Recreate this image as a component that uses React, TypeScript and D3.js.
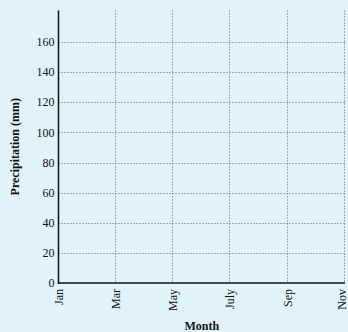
import React, { useEffect, useRef } from "react";
import * as d3 from "d3";

const monthTicks = ["Jan", "Mar", "May", "July", "Sep", "Nov"];
const monthIndex = [0, 2, 4, 6, 8, 10];
const yTicks = [0, 20, 40, 60, 80, 100, 120, 140, 160];
const yDomain = [0, 181];
const xDomain = [0, 10];

const W = 348;
const H = 332;
const M = { left: 58.5, right: 345, top: 10.5, bottom: 283 };
const FONT = "'Liberation Serif', 'Times New Roman', serif";

export default function App() {
  const ref = useRef<SVGSVGElement>(null);
  useEffect(() => {
    const svg = d3.select(ref.current);
    svg.selectAll("*").remove();
    const x = d3.scaleLinear().domain(xDomain).range([M.left, M.right]);
    const y = d3.scaleLinear().domain(yDomain).range([M.bottom, M.top]);

    svg.append("rect").attr("width", W).attr("height", H).attr("fill", "#e0f3fb");

    const g = svg.append("g");
    g.selectAll("line.hg")
      .data(yTicks.filter((d) => d > 0))
      .join("line")
      .attr("x1", M.left)
      .attr("x2", M.right)
      .attr("y1", (d) => Math.round(y(d)) + 0.5)
      .attr("y2", (d) => Math.round(y(d)) + 0.5)
      .attr("stroke", "#666")
      .attr("stroke-width", 1)
      .attr("stroke-dasharray", "1,2");
    g.selectAll("line.vg")
      .data(monthIndex.filter((d) => d > 0))
      .join("line")
      .attr("x1", (d) => Math.round(x(d)) - 0.5)
      .attr("x2", (d) => Math.round(x(d)) - 0.5)
      .attr("y1", M.top)
      .attr("y2", M.bottom)
      .attr("stroke", "#666")
      .attr("stroke-width", 1)
      .attr("stroke-dasharray", "1,2");

    svg.append("line")
      .attr("x1", M.left).attr("x2", M.left)
      .attr("y1", M.top).attr("y2", M.bottom + 0.75)
      .attr("stroke", "#111").attr("stroke-width", 1.5);
    svg.append("line")
      .attr("x1", M.left - 0.75).attr("x2", M.right)
      .attr("y1", M.bottom).attr("y2", M.bottom)
      .attr("stroke", "#111").attr("stroke-width", 1.5);

    svg.selectAll("text.yt")
      .data(yTicks)
      .join("text")
      .attr("x", 54.5)
      .attr("y", (d) => y(d))
      .attr("dy", "0.34em")
      .attr("text-anchor", "end")
      .attr("font-family", FONT)
      .attr("font-size", 12)
      .attr("fill", "#111")
      .text((d) => String(d));

    svg.selectAll("text.xt")
      .data(monthIndex)
      .join("text")
      .attr("transform", (d) => `translate(${Math.min(x(d), 341.5)},${M.bottom + 6}) rotate(-90)`)
      .attr("dy", "0.34em")
      .attr("text-anchor", "end")
      .attr("font-family", FONT)
      .attr("font-size", 12)
      .attr("fill", "#111")
      .text((d, i) => monthTicks[i]);

    svg.append("text")
      .attr("x", (M.left + M.right) / 2)
      .attr("y", 330)
      .attr("text-anchor", "middle")
      .attr("font-family", FONT)
      .attr("font-weight", "bold")
      .attr("font-size", 12)
      .attr("fill", "#111")
      .text("Month");
    svg.append("text")
      .attr("transform", `translate(19,${(M.top + M.bottom) / 2}) rotate(-90)`)
      .attr("text-anchor", "middle")
      .attr("font-family", FONT)
      .attr("font-weight", "bold")
      .attr("font-size", 12)
      .attr("fill", "#111")
      .text("Precipitation (mm)");
  }, []);

  return (
    <svg
      ref={ref}
      width={W}
      height={H}
      style={{ position: "absolute", left: 0, top: 0, display: "block" }}
    />
  );
}
